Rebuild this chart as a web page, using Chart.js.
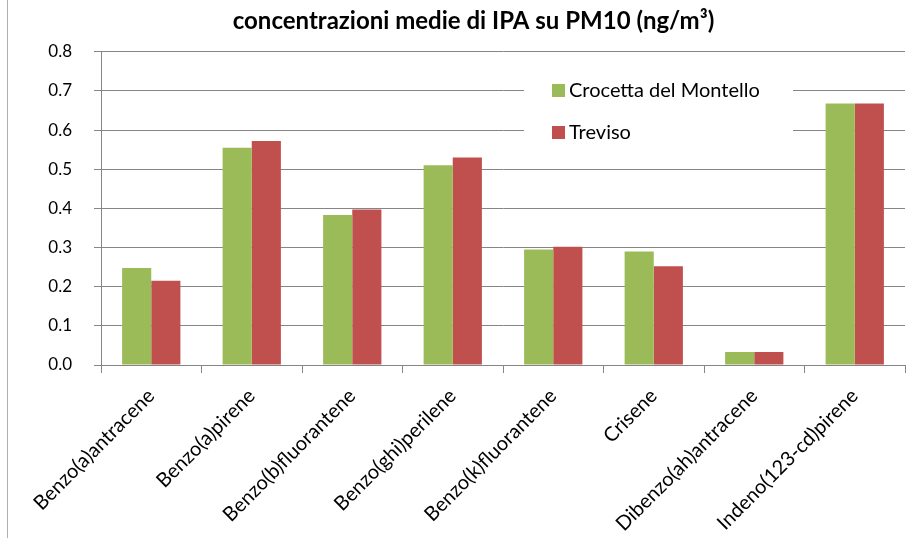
<!DOCTYPE html>
<html>
<head>
<meta charset="utf-8">
<script src="https://cdn.jsdelivr.net/npm/chart.js@4"></script>
<style>
  html, body { margin: 0; padding: 0; background: #fff; }
  #wrap { position: relative; width: 908px; height: 538px; }
  #wrap:before { content: ''; position: absolute; left: 7px; top: 0; bottom: 0; border-left: 1px solid #b0b0b0; }
</style>
</head>
<body>
<div id="wrap"><canvas id="ipaChart" width="908" height="538"></canvas></div>
<script>
// categories and values
const categories = [
  'Benzo(a)antracene', 'Benzo(a)pirene', 'Benzo(b)fluorantene', 'Benzo(ghi)perilene',
  'Benzo(k)fluorantene', 'Crisene', 'Dibenzo(ah)antracene', 'Indeno(123-cd)pirene'
];
const crocetta = [0.248, 0.555, 0.383, 0.510, 0.295, 0.290, 0.033, 0.668];
const treviso  = [0.215, 0.572, 0.397, 0.530, 0.302, 0.252, 0.033, 0.668];
const seriesNames = ['Crocetta del Montello', 'Treviso'];
const yTicks = [0, 0.1, 0.2, 0.3, 0.4, 0.5, 0.6, 0.7, 0.8];

const FONT = "Lato, sans-serif";

// legend drawn inside the plot, on a white box over the gridlines
const insideLegend = {
  id: 'insideLegend',
  afterDatasetsDraw(chart) {
    const c = chart.ctx;
    c.save();
    c.fillStyle = '#fff';
    c.fillRect(524, 70, 269, 82);
    chart.data.datasets.forEach((ds, i) => {
      const cy = 90 + i * 42;
      c.fillStyle = ds.backgroundColor;
      c.fillRect(552, cy - 6, 13, 13);
      c.fillStyle = '#000';
      c.font = '20px ' + FONT;
      c.textBaseline = 'middle';
      c.fillText(ds.label, 569, cy + 1);
    });
    c.restore();
  }
};

new Chart(document.getElementById('ipaChart').getContext('2d'), {
  type: 'bar',
  data: {
    labels: categories,
    datasets: [
      { label: seriesNames[0], data: crocetta, backgroundColor: '#9BBB59' },
      { label: seriesNames[1], data: treviso,  backgroundColor: '#C0504D' }
    ]
  },
  options: {
    responsive: false,
    animation: false,
    layout: { padding: { left: 42, right: 3, top: 0, bottom: 0 } },
    categoryPercentage: 0.58,
    barPercentage: 1.0,
    plugins: {
      legend: { display: false },
      tooltip: { enabled: false },
      title: {
        display: true,
        text: 'concentrazioni medie di IPA su PM10 (ng/m³)',
        color: '#000',
        font: { family: FONT, size: 24, weight: 'bold' },
        padding: { top: 7, bottom: 16 }
      }
    },
    scales: {
      x: {
        grid: { offset: true, drawOnChartArea: false, color: '#868686', tickLength: 8 },
        border: { color: '#868686' },
        ticks: {
          color: '#000',
          font: { family: FONT, size: 20 },
          maxRotation: 45, minRotation: 45, padding: 11
        },
        afterFit: s => { s.height = 173; }
      },
      y: {
        min: 0, max: 0.8,
        afterBuildTicks: s => { s.ticks = yTicks.map(v => ({ value: v })); },
        grid: { color: '#868686', tickLength: 7 },
        border: { color: '#868686' },
        ticks: {
          color: '#000',
          font: { family: FONT, size: 17 },
          padding: 22,
          callback: v => v.toFixed(1)
        },
        afterFit: s => { s.width = 59; }
      }
    }
  },
  plugins: [insideLegend]
});
</script>
</body>
</html>
